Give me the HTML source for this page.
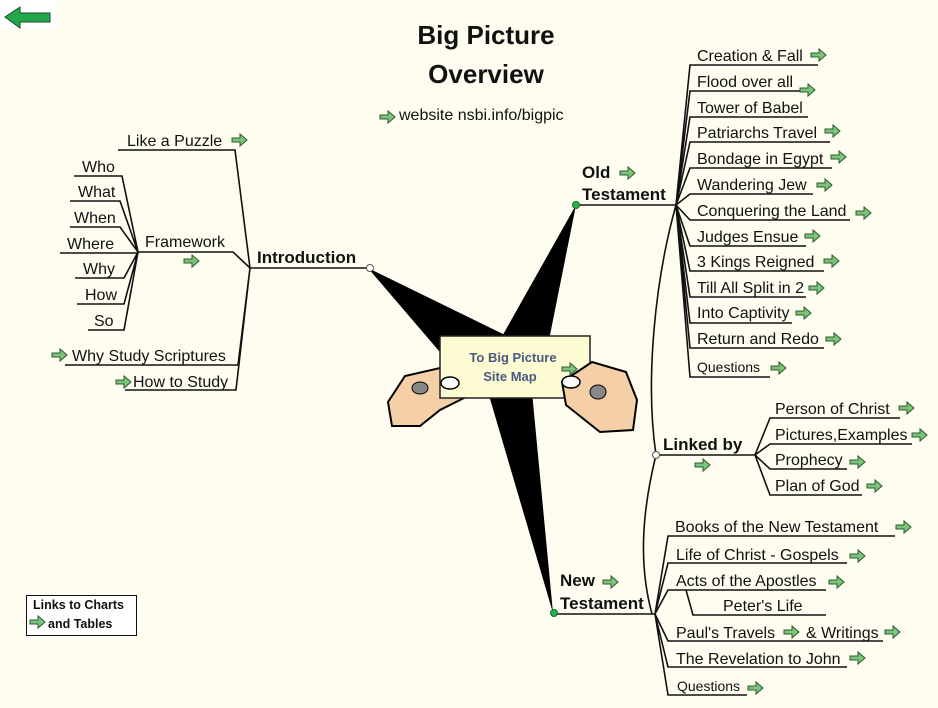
<!DOCTYPE html>
<html><head><meta charset="utf-8"><style>
html,body{margin:0;padding:0;background:#fefdf0;}
svg{display:block;}
text{font-family:"Liberation Sans",Arial,sans-serif;fill:#111;}
.t{font-size:16px;}
.b{font-weight:bold;font-size:17px;}
.s{font-size:14px;}
</style></head><body>
<svg width="938" height="708" viewBox="0 0 938 708" xmlns="http://www.w3.org/2000/svg">
<defs>
<g id="a"><polygon points="0,4 8,4 8,0 15,6 8,12 8,8 0,8" fill="#7cc47c" stroke="#2d5a2d" stroke-width="1"/></g>
</defs>
<rect width="938" height="708" fill="#fefdf0"/>
<rect x="0" y="0" width="57" height="28" fill="#fff"/>
<polygon points="5,17 20,7 20,13 50,13 50,22 20,22 20,28" fill="#22a84a" stroke="#1a4a2a" stroke-width="1"/>

<!-- wedges -->
<polygon points="368,268 505,335 445,358" fill="#000"/>
<polygon points="576,205 548,345 500,340" fill="#000"/>
<polygon points="553,613 488,392 532,392" fill="#000"/>

<!-- card & hands -->
<polygon points="388,402 405,376 440,368 470,380 468,396 440,410 420,426 392,426" fill="#f5cfa6" stroke="#000" stroke-width="2"/>
<rect x="440" y="336" width="150" height="62" fill="#fdfbd2" stroke="#222" stroke-width="1.5"/>
<polygon points="562,382 592,362 626,372 637,400 633,430 600,432 566,405" fill="#f5cfa6" stroke="#000" stroke-width="2"/>
<ellipse cx="450" cy="383" rx="9" ry="6" fill="#fff" stroke="#000" stroke-width="1.5"/>
<ellipse cx="571" cy="382" rx="9" ry="6" fill="#fff" stroke="#000" stroke-width="1.5"/>
<ellipse cx="420" cy="388" rx="8" ry="6" fill="#888" stroke="#000"/>
<ellipse cx="598" cy="392" rx="8" ry="7" fill="#888" stroke="#000"/>
<text x="513" y="362" text-anchor="middle" style="font-size:13px;font-weight:bold;fill:#4a5a80">To Big Picture</text>
<text x="510" y="381" text-anchor="middle" style="font-size:13px;font-weight:bold;fill:#4a5a80">Site Map</text>
<use href="#a" x="562" y="363"/>

<!-- title -->
<text x="486" y="44" text-anchor="middle" style="font-size:26px;font-weight:bold">Big Picture</text>
<text x="486" y="83" text-anchor="middle" style="font-size:26px;font-weight:bold">Overview</text>
<use href="#a" x="380" y="111"/>
<text x="399" y="120" class="t">website nsbi.info/bigpic</text>

<g stroke="#111" stroke-width="1.6" fill="none">
<!-- left -->
<path d="M118,150 H235 L250,268 H368"/>
<path d="M74,176 H122 L138,252 M70,201 H120 L138,252 M70,227 H120 L138,252 M60,253 H137 M75,278 H124 L138,252 M77,304 H124 L138,252 M88,330 H124 L138,252"/>
<path d="M138,252 H233 L250,268"/>
<path d="M250,268 L238,365 H65 M250,268 L236,390 H125"/>
<!-- OT -->
<path d="M576,205 H676"/>
<path d="M676,205 L690,65 H818 M676,205 L690,91 H805 M676,205 L690,117 H808 M676,205 L690,142 H830 M676,205 L690,168 H832 M676,205 L690,194 H813 M676,205 L690,220 H850 M676,205 L690,246 H806 M676,205 L690,271 H824 M676,205 L690,297 H806 M676,205 L690,323 H792 M676,205 L690,348 H824 M676,205 L690,377 H770"/>
<path d="M676,205 C655,280 645,380 656,455 C640,520 640,570 652,614"/>
<!-- Linked -->
<path d="M656,455 H755 L770,418 H900 M755,455 L770,444 H912 M755,455 L770,469 H847 M755,455 L770,495 H862"/>
<!-- NT -->
<path d="M553,614 H655"/>
<path d="M655,614 L668,536 H895 M655,614 L668,563 H847 M655,614 L668,590 H826 M686,590 L693,615 H826 M655,614 L668,641 H883 M655,614 L668,667 H847 M655,614 L668,695 H747"/>
</g>
<circle cx="370" cy="268" r="3.5" fill="#fff" stroke="#555"/>
<circle cx="656" cy="455" r="3.5" fill="#fff" stroke="#555"/>
<circle cx="576" cy="205" r="3.5" fill="#2bb24c" stroke="#1a6a2a"/>
<circle cx="554" cy="613" r="3.5" fill="#2bb24c" stroke="#1a6a2a"/>

<!-- left texts -->
<text x="127" y="146" class="t">Like a  Puzzle</text><use href="#a" x="232" y="134"/>
<text x="82" y="172" class="t">Who</text>
<text x="78" y="197" class="t">What</text>
<text x="74" y="223" class="t">When</text>
<text x="67" y="249" class="t">Where</text>
<text x="83" y="274" class="t">Why</text>
<text x="85" y="300" class="t">How</text>
<text x="94" y="326" class="t">So</text>
<text x="145" y="247" class="t">Framework</text><use href="#a" x="184" y="255"/>
<text x="257" y="263" class="b">Introduction</text>
<use href="#a" x="52" y="349"/><text x="72" y="361" class="t">Why Study Scriptures</text>
<use href="#a" x="116" y="376"/><text x="133" y="387" class="t">How to Study</text>

<!-- OT texts -->
<text x="582" y="178" class="b">Old</text><use href="#a" x="620" y="167"/>
<text x="582" y="200" class="b">Testament</text>
<text x="697" y="61" class="t">Creation &amp; Fall</text><use href="#a" x="811" y="49"/>
<text x="697" y="87" class="t">Flood over all</text><use href="#a" x="800" y="84"/>
<text x="697" y="113" class="t">Tower of Babel</text>
<text x="697" y="138" class="t">Patriarchs Travel</text><use href="#a" x="825" y="125"/>
<text x="697" y="164" class="t">Bondage in Egypt</text><use href="#a" x="831" y="151"/>
<text x="697" y="190" class="t">Wandering Jew</text><use href="#a" x="817" y="179"/>
<text x="697" y="216" class="t">Conquering the Land</text><use href="#a" x="856" y="207"/>
<text x="697" y="242" class="t">Judges Ensue</text><use href="#a" x="805" y="230"/>
<text x="697" y="267" class="t">3 Kings Reigned</text><use href="#a" x="824" y="255"/>
<text x="697" y="293" class="t">Till All Split in 2</text><use href="#a" x="809" y="282"/>
<text x="697" y="318" class="t">Into Captivity</text><use href="#a" x="796" y="307"/>
<text x="697" y="344" class="t">Return and Redo</text><use href="#a" x="826" y="333"/>
<text x="697" y="372" class="s">Questions</text><use href="#a" x="771" y="362"/>

<!-- Linked -->
<text x="663" y="450" class="b">Linked by</text><use href="#a" x="695" y="459"/>
<text x="775" y="414" class="t">Person of Christ</text><use href="#a" x="899" y="402"/>
<text x="775" y="440" class="t">Pictures,Examples</text><use href="#a" x="912" y="429"/>
<text x="775" y="465" class="t">Prophecy</text><use href="#a" x="850" y="456"/>
<text x="775" y="491" class="t">Plan of God</text><use href="#a" x="867" y="480"/>

<!-- NT -->
<text x="560" y="586" class="b">New</text><use href="#a" x="603" y="576"/>
<text x="560" y="609" class="b">Testament</text>
<text x="675" y="532" class="t">Books of the New Testament</text><use href="#a" x="896" y="521"/>
<text x="676" y="560" class="t">Life of Christ - Gospels</text><use href="#a" x="850" y="550"/>
<text x="676" y="586" class="t">Acts of the Apostles</text><use href="#a" x="829" y="576"/>
<text x="723" y="611" class="t">Peter's Life</text>
<text x="676" y="638" class="t">Paul's Travels</text><use href="#a" x="784" y="626"/><text x="806" y="638" class="t">&amp; Writings</text><use href="#a" x="885" y="626"/>
<text x="676" y="664" class="t">The Revelation to John</text><use href="#a" x="850" y="652"/>
<text x="677" y="691" class="s">Questions</text><use href="#a" x="748" y="682"/>

<!-- links box -->
<rect x="26.5" y="595.5" width="110" height="40" fill="#fff" stroke="#111"/>
<text x="33" y="609" style="font-size:12.5px;font-weight:bold">Links to Charts</text>
<use href="#a" x="30" y="616"/>
<text x="48" y="628" style="font-size:12.5px;font-weight:bold">and Tables</text>
</svg>
</body></html>
